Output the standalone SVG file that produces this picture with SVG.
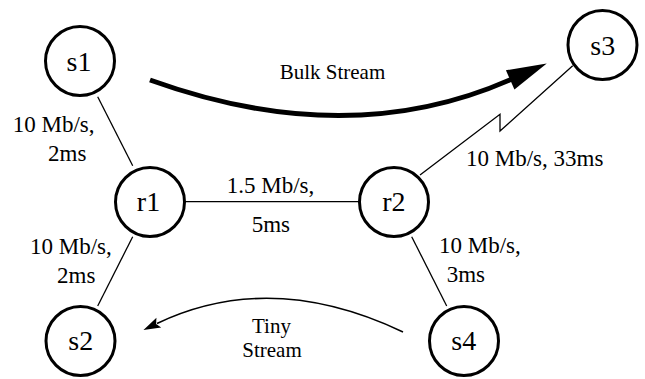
<svg xmlns="http://www.w3.org/2000/svg" width="645" height="379" viewBox="0 0 645 379">
<defs>
<marker id="bulkHead" markerUnits="userSpaceOnUse" viewBox="-2 -12 44 24" markerWidth="44" markerHeight="24" refX="2" refY="0" orient="auto">
<path d="M0,-10.5 L40,0 L0,10.5 z" fill="#000"/>
</marker>
<marker id="tinyHead" markerUnits="userSpaceOnUse" viewBox="-2 -7 22 14" markerWidth="22" markerHeight="14" refX="2" refY="0" orient="auto">
<path d="M0,-5.5 L17,0 L0,5.5 L3,0 z" fill="#000"/>
</marker>
</defs>
<style>
text { font-family: "Liberation Serif", "Times New Roman", serif; fill: #000; }
.node circle { fill: #fff; stroke: #000; stroke-width: 3; }
.node text { font-size: 28px; text-anchor: middle; }
.link { fill: none; stroke: #000; stroke-width: 1.3; }
.lbl { font-size: 23px; }
.flow { font-size: 21px; text-anchor: middle; }
</style>
<g id="connectors">
<line class="link" x1="97.7" y1="96.7" x2="132.7" y2="165.7"/>
<line class="link" x1="132.7" y1="236.7" x2="97.7" y2="306"/>
<line class="link" x1="185" y1="201.7" x2="359" y2="201.7"/>
<line class="link" x1="411.7" y1="236.7" x2="446.7" y2="306"/>
<polyline class="link" stroke-width="1" points="420,175 500,114.3 500,131 572.7,65.7"/>
<path d="M150,80 Q348.8,151.6 512,79" fill="none" stroke="#000" stroke-width="5" marker-end="url(#bulkHead)"/>
<path d="M403,332 Q270.9,269.2 157,323.5" fill="none" stroke="#000" stroke-width="1.6" marker-end="url(#tinyHead)"/>
</g>
<g id="labels">
<text class="lbl" x="12.7" y="131.7">10 Mb/s,</text>
<text class="lbl" x="48" y="160.7">2ms</text>
<text class="lbl" x="30" y="254">10 Mb/s,</text>
<text class="lbl" x="57" y="282.7">2ms</text>
<text class="lbl" x="226.7" y="193.3">1.5 Mb/s,</text>
<text class="lbl" x="251.7" y="231.7">5ms</text>
<text class="lbl" x="466" y="165.7">10 Mb/s, 33ms</text>
<text class="lbl" x="439" y="253.3">10 Mb/s,</text>
<text class="lbl" x="446.7" y="282.3">3ms</text>
<text class="flow" x="332.5" y="79">Bulk Stream</text>
<text class="flow" x="271.5" y="333">Tiny</text>
<text class="flow" x="272" y="356.7">Stream</text>
</g>
<g id="s1" class="node"><circle cx="80" cy="61" r="34.5"/><text x="79" y="71">s1</text></g>
<g id="s3" class="node"><circle cx="602.5" cy="45" r="34.5"/><text x="602.8" y="55">s3</text></g>
<g id="r1" class="node"><circle cx="150" cy="202" r="34.5"/><text x="148.5" y="210.7">r1</text></g>
<g id="r2" class="node"><circle cx="394" cy="202" r="34.5"/><text x="393.8" y="210.7">r2</text></g>
<g id="s2" class="node"><circle cx="80.5" cy="341" r="34.5"/><text x="80.8" y="350">s2</text></g>
<g id="s4" class="node"><circle cx="464" cy="341" r="34.5"/><text x="463.8" y="350">s4</text></g>
</svg>
